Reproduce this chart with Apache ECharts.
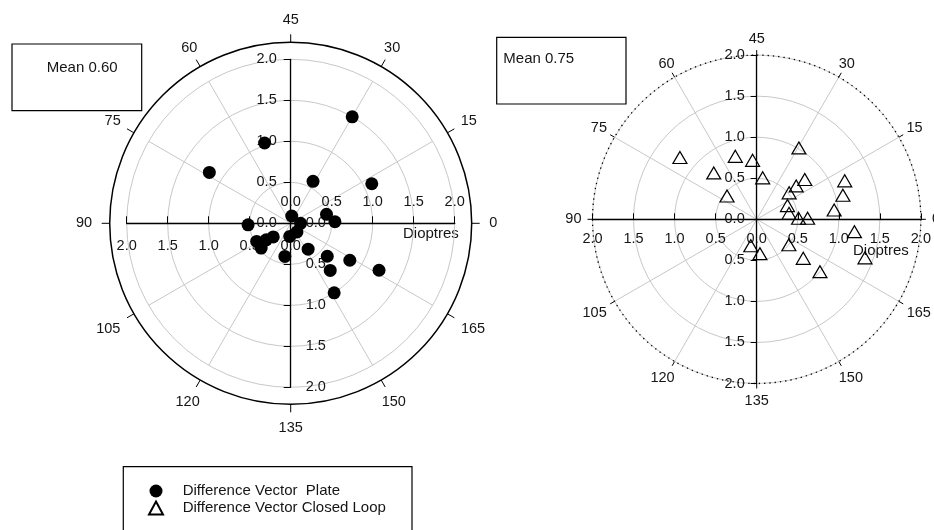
<!DOCTYPE html>
<html><head><meta charset="utf-8">
<script src="https://cdn.jsdelivr.net/npm/echarts@6/dist/echarts.min.js"></script>
<style>html,body{margin:0;padding:0;background:#fff}#c{width:934px;height:530px}</style>
</head><body><div id="c"></div>
<script>
// ---- data: [magnitude (dioptres), axis (degrees)] ----
const plateMagnitude = [1.50, 1.03, 1.17, 0.58, 1.10, 0.09, 0.12, 0.13, 0.16, 0.45, 0.54, 0.52, 0.27, 0.36, 0.47, 0.47, 0.41, 0.38, 0.60, 0.75, 0.85, 1.22, 1.00];
const plateAxis      = [30,   54,   74,   31,   13,   41,   0,    153,  133,  7,    1,    91,   109,  107,  104,  110,  130,  152,  159,  155,  164,  166,  151];
const closedMagnitude = [1.20, 0.81, 0.72, 0.77, 0.51, 0.46, 1.01, 0.76, 0.63, 0.51, 0.41, 0.40, 0.51, 0.62, 1.17, 1.09, 0.95, 1.20, 1.40, 1.00, 0.74, 0.50, 0.33, 0.42];
const closedAxis      = [70.6, 54.4, 47,   66.4, 40.9, 70.9, 29.7, 19.8, 20.1, 19.6, 12,   5.2,  0.7,  0.6,  11.8, 7.8,  3.4,  176.4,170.2,160.2,160,  160.8,128.7,137.7];
const angleTicks = [0, 15, 30, 45, 60, 75, 90, 105, 120, 135, 150, 165];
const radialTicks = [0, 0.5, 1.0, 1.5, 2.0];
const seriesNames = ['Difference Vector  Plate', 'Difference Vector Closed Loop'];
const meanLabels = ['Mean 0.60', 'Mean 0.75'];
const radiusName = 'Dioptres';

// ---- layout / style ----
const FONT = 'Arial, "Liberation Sans", sans-serif';
const TEXT = '#151515';
const GRID = '#c8c8c8';
const AX = 14.5;
const L = {cx: 290.7, cy: 223.3, r: 164, ring: 181};
const R = {cx: 756.7, cy: 219.3, r: 164.2};
const rMax = radialTicks[radialTicks.length - 1];
const step = radialTicks[1] - radialTicks[0];

const mctx = document.createElement('canvas').getContext('2d');
mctx.font = AX + 'px ' + FONT;

// angle-axis labels: per-label padding so each label sits centred just outside the ring
function angleLabel(r, gap) {
  const rich = {};
  angleTicks.forEach(v => {
    const phi = v * 2 * Math.PI / 180;
    const ux = Math.cos(phi), uy = Math.sin(phi);
    const w = mctx.measureText(String(v)).width;
    const h = AX;
    const d = gap + Math.max(Math.abs(ux) * w / 2, Math.abs(uy) * 5) + (uy < -0.3 ? 1.5 : 0);
    const dX = d * ux, dY = -d * uy;
    let pt = 0, pr = 0, pb = 0, pl = 0;
    if (Math.abs(ux) < 0.3) { if (dX > 0) pl = 2 * dX; else pr = -2 * dX; }
    else if (ux > 0) pl = Math.max(0, dX - w / 2);
    else pr = Math.max(0, -dX - w / 2);
    if (Math.abs(uy) >= 0.3) {
      if (dY > 0) pt = Math.max(0, 2 * dY - h);
      else pb = Math.max(0, -2 * dY - h);
    }
    rich['a' + v] = {fontSize: AX, fontFamily: FONT, color: TEXT, lineHeight: h, padding: [pt, pr, pb, pl]};
  });
  return {show: true, margin: 0, formatter: v => '{a' + v + '|' + v + '}', rich};
}

const angleBase = {type: 'value', min: 0, max: 180, interval: 15, startAngle: 0, clockwise: false};
const gridRadius = {type: 'value', min: 0, max: rMax, interval: step,
  axisLine: {show: false}, axisTick: {show: false}, axisLabel: {show: false},
  splitLine: {show: true, lineStyle: {color: GRID, width: 1}}};
const spokes = {show: true, lineStyle: {color: GRID, width: 1}};

const lab = (extra) => Object.assign({color: TEXT, fontSize: AX, fontFamily: FONT, showMinLabel: true, showMaxLabel: true}, extra);
const pos = v => v >= -1e-9 ? Math.abs(v).toFixed(1) : '';
const neg = v => v <= 1e-9 ? Math.abs(v).toFixed(1) : '';
const absF = v => Math.abs(v).toFixed(1);
const black = {color: '#000', width: 1.3};
const valAx = {type: 'value', min: -rMax, max: rMax, interval: step, splitLine: {show: false}};
const line = (show) => ({show: show, onZero: false, lineStyle: black});

function halfGrids(P) {
  return {
    top:   {left: P.cx - P.r, top: P.cy - P.r, width: 2 * P.r, height: P.r},
    bot:   {left: P.cx - P.r, top: P.cy, width: 2 * P.r, height: P.r},
    right: {left: P.cx, top: P.cy - P.r, width: P.r, height: 2 * P.r},
    left:  {left: P.cx - P.r, top: P.cy - P.r, width: P.r, height: 2 * P.r}
  };
}
const gL = halfGrids(L), gR = halfGrids(R);
const grids = [gL.bot, gL.top, gL.right, gL.left, gR.top, gR.right].map(g => Object.assign({show: false, containLabel: false, outerBoundsMode: 'none'}, g));

const hidden = (gi) => ({gridIndex: gi, type: 'value', show: false, min: -rMax, max: rMax, axisLine: {onZero: false}});

const xAxes = [
  Object.assign({}, valAx, {gridIndex: 0, position: 'top', axisLine: line(true),
    axisTick: {show: true, length: 7, lineStyle: {color: '#000'}}, axisLabel: lab({margin: 14, formatter: pos})}),
  Object.assign({}, valAx, {gridIndex: 1, position: 'bottom', axisLine: line(false), axisTick: {show: false},
    axisLabel: lab({margin: 15, formatter: neg})}),
  hidden(2), hidden(3),
  Object.assign({}, valAx, {gridIndex: 4, position: 'bottom', axisLine: line(true),
    axisTick: {show: true, inside: true, length: 6, lineStyle: {color: '#000'}}, axisLabel: lab({margin: 12, formatter: absF})}),
  hidden(5)
];
const yAxes = [
  hidden(0), hidden(1),
  Object.assign({}, valAx, {gridIndex: 2, position: 'left', axisLine: line(true),
    axisTick: {show: true, length: 7, lineStyle: {color: '#000'}}, axisLabel: lab({margin: 14, formatter: pos})}),
  Object.assign({}, valAx, {gridIndex: 3, position: 'right', axisLine: line(false), axisTick: {show: false},
    axisLabel: lab({margin: 15, formatter: neg})}),
  hidden(4),
  Object.assign({}, valAx, {gridIndex: 5, position: 'left', axisLine: line(true),
    axisTick: {show: true, length: 6, lineStyle: {color: '#000'}}, axisLabel: lab({margin: 12, formatter: absF})})
];

const option = {
  animation: false,
  backgroundColor: '#fff',
  textStyle: {fontFamily: FONT},
  polar: [
    {center: [L.cx, L.cy], radius: L.r},
    {center: [L.cx, L.cy], radius: L.ring},
    {center: [R.cx, R.cy], radius: R.r}
  ],
  angleAxis: [
    Object.assign({}, angleBase, {polarIndex: 0, axisLine: {show: false}, axisTick: {show: false}, axisLabel: {show: false}, splitLine: spokes}),
    Object.assign({}, angleBase, {polarIndex: 1, axisLine: {show: true, lineStyle: {color: '#000', width: 1.5}},
      axisTick: {show: true, length: 8, lineStyle: {color: '#000', width: 1}}, axisLabel: angleLabel(L.ring, 17.6), splitLine: {show: false}}),
    Object.assign({}, angleBase, {polarIndex: 2, axisLine: {show: true, lineStyle: {color: '#000', width: 1.3, type: [1.3, 4]}},
      axisTick: {show: true, length: 5, lineStyle: {color: '#000', width: 1}}, axisLabel: angleLabel(R.r, 11), splitLine: spokes})
  ],
  radiusAxis: [
    Object.assign({polarIndex: 0}, gridRadius),
    {polarIndex: 1, type: 'value', min: 0, max: 1, show: false},
    Object.assign({polarIndex: 2}, gridRadius)
  ],
  grid: grids,
  xAxis: xAxes,
  yAxis: yAxes,
  legend: {
    orient: 'vertical', left: 148, top: 483.5, padding: 0,
    itemWidth: 14, itemHeight: 13, itemGap: 2,
    textStyle: {color: TEXT, fontSize: 15, fontFamily: FONT, padding: [0, 0, 0, 14.7]},
    data: seriesNames
  },
  series: [
    {name: seriesNames[0], type: 'scatter', coordinateSystem: 'polar', polarIndex: 0,
     symbol: 'circle', symbolSize: 13, itemStyle: {color: '#000', opacity: 1},
     data: plateMagnitude.map((m, i) => [m, plateAxis[i]])},
    {name: seriesNames[1], type: 'scatter', coordinateSystem: 'polar', polarIndex: 2,
     symbol: 'triangle', symbolSize: [14, 12],
     itemStyle: {color: 'rgba(255,255,255,0)', borderColor: '#000', borderWidth: 1.2, opacity: 1},
     data: closedMagnitude.map((m, i) => [m, closedAxis[i]])}
  ],
  graphic: [
    {type: 'rect', shape: {x: 12, y: 44, width: 129.7, height: 66.7}, style: {fill: 'none', stroke: '#000', lineWidth: 1.2}},
    {type: 'text', x: 46.7, y: 67.7, style: {text: meanLabels[0], font: '15px ' + FONT, fill: TEXT, verticalAlign: 'middle'}},
    {type: 'rect', shape: {x: 496.7, y: 37.3, width: 129.3, height: 66.7}, style: {fill: 'none', stroke: '#000', lineWidth: 1.2}},
    {type: 'text', x: 503.3, y: 59.3, style: {text: meanLabels[1], font: '15px ' + FONT, fill: TEXT, verticalAlign: 'middle'}},
    {type: 'text', x: 403, y: 234.3, style: {text: radiusName, font: '15px ' + FONT, fill: TEXT, verticalAlign: 'middle'}},
    {type: 'text', x: 853, y: 251, style: {text: radiusName, font: '15px ' + FONT, fill: TEXT, verticalAlign: 'middle'}},
    {type: 'rect', shape: {x: 123.3, y: 466.7, width: 288.7, height: 100}, style: {fill: 'none', stroke: '#000', lineWidth: 1.2}}
  ]
};
const chart = echarts.init(document.getElementById('c'), null, {renderer: 'canvas'});
chart.setOption(option);
</script>
</body></html>
